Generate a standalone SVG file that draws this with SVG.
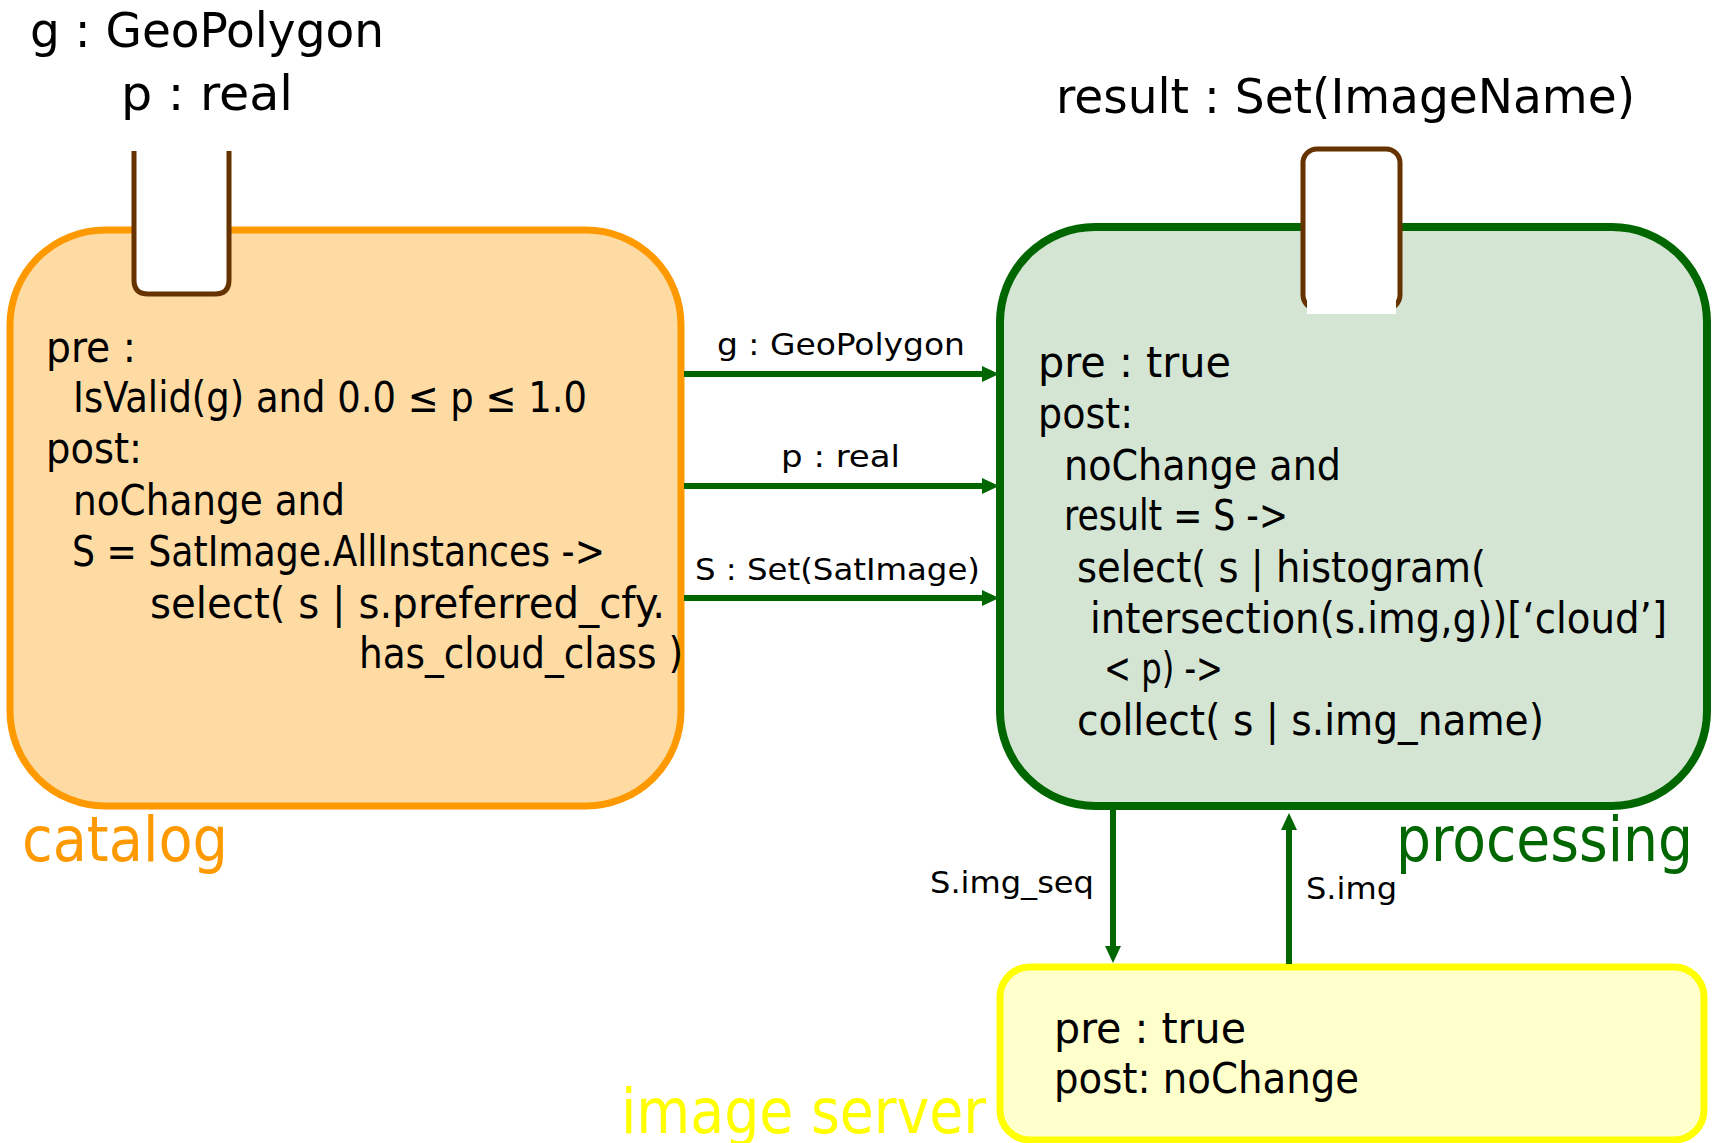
<svg xmlns="http://www.w3.org/2000/svg" width="1720" height="1143" viewBox="0 0 1720 1143">
  <style>
    text { font-family: "DejaVu Sans Condensed", "DejaVu Sans", "Liberation Sans", sans-serif; fill: #000; }
    .title { font-size: 48px; }
    .body { font-size: 42px; }
    .edge { font-size: 31px; }
    .name { font-size: 62px; }
    .box-catalog { fill: #FFDBA4; stroke: #FF9900; stroke-width: 7; }
    .box-processing { fill: #D4E5D3; stroke: #006600; stroke-width: 8; }
    .box-server { fill: #FFFFCC; stroke: #FFFF00; stroke-width: 7; }
    .port { fill: #FFFFFF; stroke: #663300; stroke-width: 5; }
    .flow { stroke: #006600; stroke-width: 6; fill: none; marker-end: url(#head); }
  </style>
  <defs>
    <marker id="head" markerUnits="userSpaceOnUse" markerWidth="18" markerHeight="18" refX="0" refY="8" orient="auto">
      <path d="M0,0 L17,8 L0,16 z" fill="#006600"/>
    </marker>
  </defs>

  <rect width="1720" height="1143" fill="#FFFFFF"/>

  <!-- interface labels -->
  <text class="title" x="30" y="47" textLength="354" lengthAdjust="spacingAndGlyphs">g : GeoPolygon</text>
  <text class="title" x="121" y="110" textLength="172" lengthAdjust="spacingAndGlyphs">p : real</text>
  <text class="title" x="1056" y="113" textLength="579" lengthAdjust="spacingAndGlyphs">result : Set(ImageName)</text>

  <!-- catalog component -->
  <g id="catalog">
    <rect class="box-catalog" x="10" y="230" width="671" height="576" rx="95" ry="95"/>
    <path class="port" d="M134,151 V280 Q134,294 148,294 H215 Q229,294 229,280 V151"/>
    <text class="body" x="46" y="362" textLength="90" lengthAdjust="spacingAndGlyphs">pre :</text>
    <text class="body" x="73" y="412" textLength="514" lengthAdjust="spacingAndGlyphs">IsValid(g) and 0.0 ≤ p ≤ 1.0</text>
    <text class="body" x="46" y="463" textLength="96" lengthAdjust="spacingAndGlyphs">post:</text>
    <text class="body" x="73" y="515" textLength="272" lengthAdjust="spacingAndGlyphs">noChange and</text>
    <text class="body" x="72" y="566" textLength="533" lengthAdjust="spacingAndGlyphs">S = SatImage.AllInstances -&gt;</text>
    <text class="body" x="150" y="618" textLength="515" lengthAdjust="spacingAndGlyphs">select( s | s.preferred_cfy.</text>
    <text class="body" x="359" y="668" textLength="324" lengthAdjust="spacingAndGlyphs">has_cloud_class )</text>
    <text class="name" x="22" y="861" fill="#FF9900" style="fill:#FF9900" textLength="206" lengthAdjust="spacingAndGlyphs">catalog</text>
  </g>

  <!-- processing component -->
  <g id="processing">
    <rect class="box-processing" x="1000" y="227" width="707" height="579" rx="95" ry="95"/>
    <rect class="port" x="1303" y="149" width="97" height="160" rx="14" ry="14"/>
    <rect x="1307" y="297" width="89" height="17" fill="#FFFFFF"/>
    <text class="body" x="1038" y="377" textLength="193" lengthAdjust="spacingAndGlyphs">pre : true</text>
    <text class="body" x="1038" y="428" textLength="95" lengthAdjust="spacingAndGlyphs">post:</text>
    <text class="body" x="1064" y="480" textLength="277" lengthAdjust="spacingAndGlyphs">noChange and</text>
    <text class="body" x="1064" y="530" textLength="224" lengthAdjust="spacingAndGlyphs">result = S -&gt;</text>
    <text class="body" x="1077" y="582" textLength="409" lengthAdjust="spacingAndGlyphs">select( s | histogram(</text>
    <text class="body" x="1090" y="633" textLength="577" lengthAdjust="spacingAndGlyphs">intersection(s.img,g))[‘cloud’]</text>
    <text class="body" x="1104" y="683" textLength="119" lengthAdjust="spacingAndGlyphs">&lt; p) -&gt;</text>
    <text class="body" x="1077" y="735" textLength="467" lengthAdjust="spacingAndGlyphs">collect( s | s.img_name)</text>
    <text class="name" x="1396" y="861" style="fill:#006600" textLength="297" lengthAdjust="spacingAndGlyphs">processing</text>
  </g>

  <!-- image server component -->
  <g id="image-server">
    <rect class="box-server" x="1000" y="967" width="704" height="173" rx="30" ry="30"/>
    <text class="body" x="1054" y="1043" textLength="192" lengthAdjust="spacingAndGlyphs">pre : true</text>
    <text class="body" x="1054" y="1093" textLength="305" lengthAdjust="spacingAndGlyphs">post: noChange</text>
    <text class="name" x="621" y="1133" style="fill:#FFFF00" textLength="365" lengthAdjust="spacingAndGlyphs">image server</text>
  </g>

  <!-- data flows -->
  <g id="connectors">
    <line class="flow" x1="684" y1="374" x2="982" y2="374"/>
    <line class="flow" x1="684" y1="486" x2="982" y2="486"/>
    <line class="flow" x1="684" y1="598" x2="982" y2="598"/>
    <line class="flow" x1="1113" y1="810" x2="1113" y2="946"/>
    <line class="flow" x1="1289" y1="964" x2="1289" y2="830"/>
    <text class="edge" x="717" y="355" textLength="248" lengthAdjust="spacingAndGlyphs">g : GeoPolygon</text>
    <text class="edge" x="781" y="467" textLength="119" lengthAdjust="spacingAndGlyphs">p : real</text>
    <text class="edge" x="695" y="580" textLength="285" lengthAdjust="spacingAndGlyphs">S : Set(SatImage)</text>
    <text class="edge" x="930" y="893" textLength="164" lengthAdjust="spacingAndGlyphs">S.img_seq</text>
    <text class="edge" x="1306" y="899" textLength="91" lengthAdjust="spacingAndGlyphs">S.img</text>
  </g>
</svg>
